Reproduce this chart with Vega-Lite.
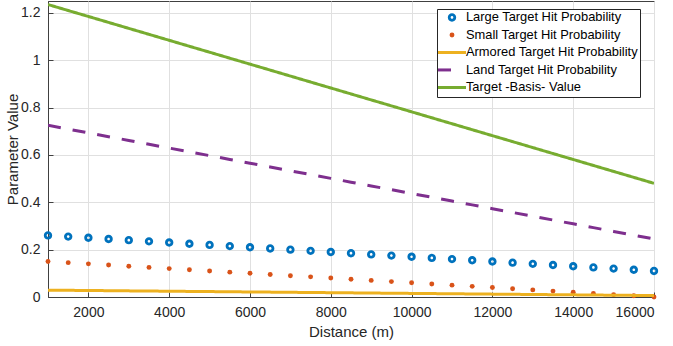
{
  "$schema": "https://vega.github.io/schema/vega-lite/v6.json",
  "width": 606,
  "height": 296,
  "autosize": {"type": "none"},
  "padding": {"left": 48, "top": 1, "right": 19, "bottom": 49},
  "background": "white",
  "data": {
    "values": [
      {"distance": 1000, "large": 0.26, "small": 0.15, "armored": 0.029, "land": 0.725, "target": 1.235},
      {"distance": 1500, "large": 0.255, "small": 0.145, "armored": 0.0282, "land": 0.709, "target": 1.2098},
      {"distance": 2000, "large": 0.25, "small": 0.14, "armored": 0.0275, "land": 0.693, "target": 1.1847},
      {"distance": 2500, "large": 0.245, "small": 0.135, "armored": 0.0267, "land": 0.677, "target": 1.1595},
      {"distance": 3000, "large": 0.24, "small": 0.13, "armored": 0.0259, "land": 0.661, "target": 1.1343},
      {"distance": 3500, "large": 0.235, "small": 0.125, "armored": 0.0252, "land": 0.645, "target": 1.1092},
      {"distance": 4000, "large": 0.23, "small": 0.12, "armored": 0.0244, "land": 0.629, "target": 1.084},
      {"distance": 4500, "large": 0.225, "small": 0.115, "armored": 0.0236, "land": 0.613, "target": 1.0588},
      {"distance": 5000, "large": 0.22, "small": 0.11, "armored": 0.0229, "land": 0.597, "target": 1.0337},
      {"distance": 5500, "large": 0.215, "small": 0.105, "armored": 0.0221, "land": 0.581, "target": 1.0085},
      {"distance": 6000, "large": 0.21, "small": 0.1, "armored": 0.0213, "land": 0.565, "target": 0.9833},
      {"distance": 6500, "large": 0.205, "small": 0.095, "armored": 0.0206, "land": 0.549, "target": 0.9582},
      {"distance": 7000, "large": 0.2, "small": 0.09, "armored": 0.0198, "land": 0.533, "target": 0.933},
      {"distance": 7500, "large": 0.195, "small": 0.085, "armored": 0.019, "land": 0.517, "target": 0.9078},
      {"distance": 8000, "large": 0.19, "small": 0.08, "armored": 0.0183, "land": 0.501, "target": 0.8827},
      {"distance": 8500, "large": 0.185, "small": 0.075, "armored": 0.0175, "land": 0.485, "target": 0.8575},
      {"distance": 9000, "large": 0.18, "small": 0.07, "armored": 0.0167, "land": 0.469, "target": 0.8323},
      {"distance": 9500, "large": 0.175, "small": 0.065, "armored": 0.016, "land": 0.453, "target": 0.8072},
      {"distance": 10000, "large": 0.17, "small": 0.06, "armored": 0.0152, "land": 0.437, "target": 0.782},
      {"distance": 10500, "large": 0.165, "small": 0.055, "armored": 0.0144, "land": 0.421, "target": 0.7568},
      {"distance": 11000, "large": 0.16, "small": 0.05, "armored": 0.0137, "land": 0.405, "target": 0.7317},
      {"distance": 11500, "large": 0.155, "small": 0.045, "armored": 0.0129, "land": 0.389, "target": 0.7065},
      {"distance": 12000, "large": 0.15, "small": 0.04, "armored": 0.0121, "land": 0.373, "target": 0.6813},
      {"distance": 12500, "large": 0.145, "small": 0.035, "armored": 0.0114, "land": 0.357, "target": 0.6562},
      {"distance": 13000, "large": 0.14, "small": 0.03, "armored": 0.0106, "land": 0.341, "target": 0.631},
      {"distance": 13500, "large": 0.135, "small": 0.025, "armored": 0.0098, "land": 0.325, "target": 0.6058},
      {"distance": 14000, "large": 0.13, "small": 0.02, "armored": 0.0091, "land": 0.309, "target": 0.5807},
      {"distance": 14500, "large": 0.125, "small": 0.015, "armored": 0.0083, "land": 0.293, "target": 0.5555},
      {"distance": 15000, "large": 0.12, "small": 0.01, "armored": 0.0075, "land": 0.277, "target": 0.5303},
      {"distance": 15500, "large": 0.115, "small": 0.005, "armored": 0.0068, "land": 0.261, "target": 0.5052},
      {"distance": 16000, "large": 0.11, "small": 0.0, "armored": 0.006, "land": 0.245, "target": 0.48}
    ]
  },
  "transform": [
    {"fold": ["large", "small", "armored", "land", "target"], "as": ["series", "val"]}
  ],
  "encoding": {
    "x": {
      "field": "distance", "type": "quantitative",
      "scale": {"domain": [1000, 16000], "nice": false, "zero": false},
      "axis": {"title": "Distance (m)", "values": [2000, 4000, 6000, 8000, 10000, 12000, 14000, 16000], "format": "d", "labelPadding": 13, "titlePadding": 5}
    },
    "y": {
      "field": "val", "type": "quantitative",
      "scale": {"domain": [0, 1.25], "nice": false, "zero": false},
      "axis": {"title": "Parameter Value", "values": [0, 0.2, 0.4, 0.6, 0.8, 1, 1.2], "format": "~g", "labelPadding": 13, "titlePadding": 0}
    },
    "color": {
      "field": "series", "type": "nominal",
      "scale": {
        "domain": ["large", "small", "armored", "land", "target"],
        "range": ["#0072BD", "#D95319", "#EDB120", "#7E2F8E", "#77AC30"]
      },
      "legend": {
        "title": null,
        "orient": "none",
        "legendX": 389,
        "legendY": 8,
        "fillColor": "white",
        "strokeColor": "#262626",
        "padding": 2,
        "symbolSize": 100,
        "labelOffset": 14,
        "rowPadding": 3.5,
        "labelFontSize": 12.9,
        "labelLimit": 0,
        "labelColor": "#000000",
        "labelFont": "Liberation Sans",
        "labelExpr": "datum.value === 'large' ? 'Large Target Hit Probability' : datum.value === 'small' ? 'Small Target Hit Probability' : datum.value === 'armored' ? 'Armored Target Hit Probability' : datum.value === 'land' ? 'Land Target Hit Probability' : 'Target -Basis- Value'",
        "encode": {
          "symbols": {
            "update": {
              "shape": {"signal": "datum.value === 'large' ? 'M-1,0A1,1,0,1,0,1,0A1,1,0,1,0,-1,0ZM-0.32,0A0.32,0.32,0,1,1,0.32,0A0.32,0.32,0,1,1,-0.32,0Z' : datum.value === 'small' ? 'circle' : 'stroke'"},
              "size": {"signal": "datum.value === 'large' ? 70 : datum.value === 'small' ? 24 : 784"},
              "fill": {"scale": "color", "field": "value"},
              "stroke": {"scale": "color", "field": "value"},
              "strokeWidth": {"signal": "datum.value === 'large' || datum.value === 'small' ? 0 : 3"},
              "strokeDash": {"signal": "datum.value === 'land' ? [13, 30] : [1, 0]"},
              "x": {"value": 13},
              "opacity": {"value": 1}
            }
          }
        }
      }
    }
  },
  "layer": [
    {
      "transform": [{"filter": "datum.series === 'large'"}],
      "mark": {"type": "point", "shape": "M-1,0A1,1,0,1,0,1,0A1,1,0,1,0,-1,0ZM-0.32,0A0.32,0.32,0,1,1,0.32,0A0.32,0.32,0,1,1,-0.32,0Z", "filled": true, "size": 70, "opacity": 1, "clip": false}
    },
    {
      "transform": [{"filter": "datum.series === 'small'"}],
      "mark": {"type": "point", "shape": "circle", "filled": true, "size": 24, "opacity": 1, "clip": false}
    },
    {
      "transform": [{"filter": "datum.series === 'armored' || datum.series === 'land' || datum.series === 'target'"}],
      "mark": {"type": "line", "strokeWidth": 3, "strokeCap": "butt", "clip": true},
      "encoding": {
        "strokeDash": {
          "field": "series", "type": "nominal",
          "scale": {"domain": ["armored", "land", "target"], "range": [[1, 0], [13, 12], [1, 0]]},
          "legend": null
        }
      }
    }
  ],
  "config": {
    "font": "Liberation Sans",
    "view": {"stroke": "#404040", "strokeWidth": 1},
    "axis": {
      "domainColor": "#404040",
      "gridColor": "#e0e0e0",
      "tickColor": "#404040",
      "tickSize": -5,
      "labelColor": "#262626",
      "titleColor": "#262626",
      "labelFontSize": 14,
      "titleFontSize": 15,
      "titleFontWeight": "normal",
      "labelFont": "Liberation Sans",
      "titleFont": "Liberation Sans"
    }
  }
}
